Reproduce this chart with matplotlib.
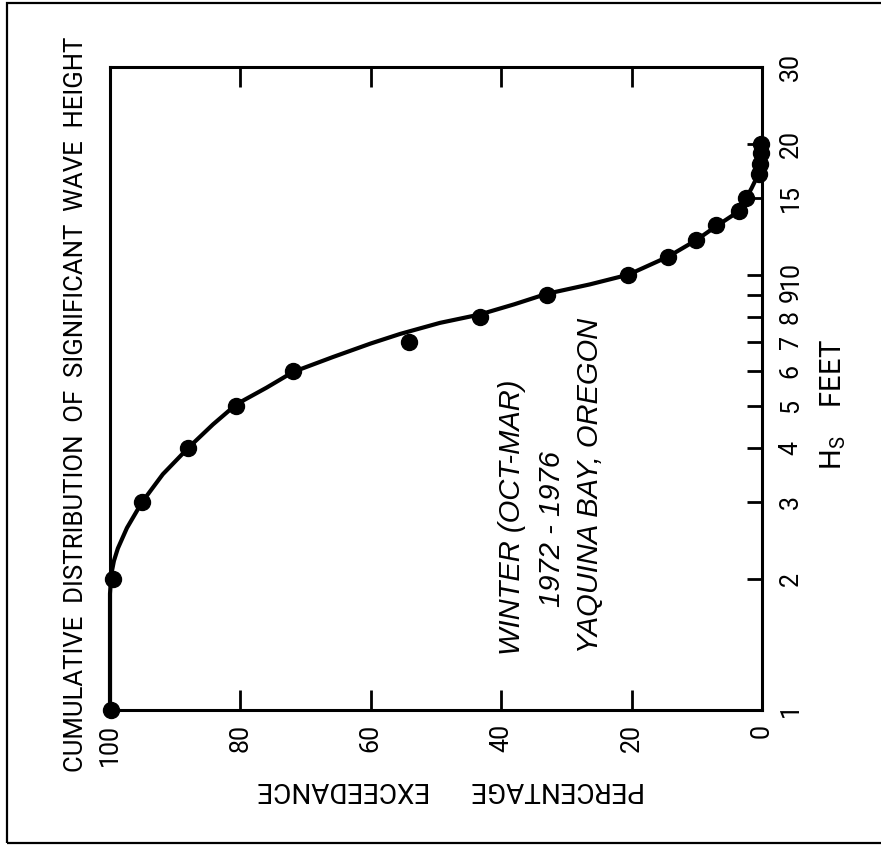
import matplotlib
matplotlib.use("Agg")
import matplotlib.pyplot as plt
from matplotlib.patches import Rectangle
from matplotlib.ticker import NullLocator

# measured points: percentage exceedance vs significant wave height (ft)
pct_points = [99.8, 99.6, 95.1, 88.0, 80.6, 71.9, 54.1, 43.3, 33.0, 20.5,
              14.4, 10.1, 7.1, 3.5, 2.4, 0.4, 0.25, 0.15, 0.1]
hs_points = [1.0, 2.0, 3.0, 4.0, 5.0, 6.0, 7.0, 8.0, 9.0, 10.0,
             11.0, 12.0, 13.0, 14.0, 15.0, 17.0, 18.0, 19.0, 20.0]

# hand-drawn fit curve
curve_pct = [100.0, 100.0, 99.8, 99.4, 98.8, 97.4, 95.1, 91.9, 88.0, 84.2,
             80.6, 76.0, 71.9, 65.8, 60.0, 55.5, 49.4, 43.3, 38.0, 33.0,
             26.4, 20.5, 14.4, 10.1, 7.1, 3.5, 1.6, 0.4]
curve_hs = [1.0, 1.85, 2.05, 2.2, 2.35, 2.62, 3.0, 3.48, 4.0, 4.53,
            5.04, 5.5, 5.98, 6.47, 6.95, 7.31, 7.75, 8.1, 8.55, 9.04,
            9.5, 10.0, 11.0, 12.0, 12.9, 14.0, 15.8, 17.2]

x_ticks = [100, 80, 60, 40, 20, 0]
y_ticks = [1, 2, 3, 4, 5, 6, 7, 8, 9, 10, 15, 20, 30]

LABEL_FONT = ["Roboto", "DejaVu Sans"]
NOTE_FONT = ["Liberation Sans", "DejaVu Sans"]
W, H = 881, 850

plt.rcParams["font.family"] = LABEL_FONT
plt.rcParams["mathtext.fontset"] = "custom"
plt.rcParams["mathtext.rm"] = "Roboto"

fig = plt.figure(figsize=(W / 100, H / 100), dpi=100)
ax = fig.add_axes([110 / W, 1 - 710 / H, 652 / W, 643 / H])

ax.plot(curve_pct, curve_hs, color="black", linewidth=3.0, solid_capstyle="round",
        solid_joinstyle="round", clip_on=False, zorder=3)
ax.plot(pct_points, hs_points, "o", color="black", markersize=11.5, clip_on=False, zorder=4)

ax.set_xlim(100, 0)
ax.set_yscale("log")
ax.set_ylim(1, 30)
ax.set_xticks(x_ticks)
ax.set_xticklabels([str(v) for v in x_ticks])
ax.set_yticks(y_ticks)
ax.set_yticklabels([str(v) for v in y_ticks])
ax.yaxis.set_minor_locator(NullLocator())
ax.xaxis.set_minor_locator(NullLocator())

ax.yaxis.tick_right()
ax.tick_params(axis="x", direction="in", length=14.4, width=2, top=True, bottom=True,
               labelrotation=90, pad=10, labelsize=18)
ax.tick_params(axis="y", direction="in", length=10.8, width=2, right=True, left=False,
               labelright=True, labelleft=False, labelrotation=90, pad=12, labelsize=18)
for lab in ax.get_yticklabels():
    lab.set_verticalalignment("center")

for side in ("left", "right", "top", "bottom"):
    ax.spines[side].set_linewidth(2.2)

fig.text(76 / W, 1 - 404 / H,
         "CUMULATIVE  DISTRIBUTION  OF  SIGNIFICANT  WAVE  HEIGHT",
         rotation=90, ha="center", va="center", fontsize=18.5)
fig.text(451 / W, 1 - 789 / H, "PERCENTAGE      EXCEEDANCE",
         rotation=180, ha="center", va="center", fontsize=20)
fig.text(833 / W, 1 - 405 / H, r"$\mathrm{H_S}$    FEET",
         rotation=90, ha="center", va="center", fontsize=21)

# station note, one line at a time
notes = [("WINTER (OCT-MAR)", 512, 655),
         ("1972 - 1976", 552, 607),
         ("YAQUINA BAY, OREGON", 590, 653)]
for text, px, py in notes:
    fig.text(px / W, 1 - py / H, text, rotation=90, rotation_mode="anchor",
             ha="left", va="center", fontsize=21, style="italic", family=NOTE_FONT)

fig.add_artist(Rectangle((7 / W, 1 - 843 / H), 1.0, (843 - 3) / H,
                         transform=fig.transFigure, fill=False,
                         linewidth=1.6, edgecolor="black", clip_on=False))

fig.savefig("out.png", dpi=100)
